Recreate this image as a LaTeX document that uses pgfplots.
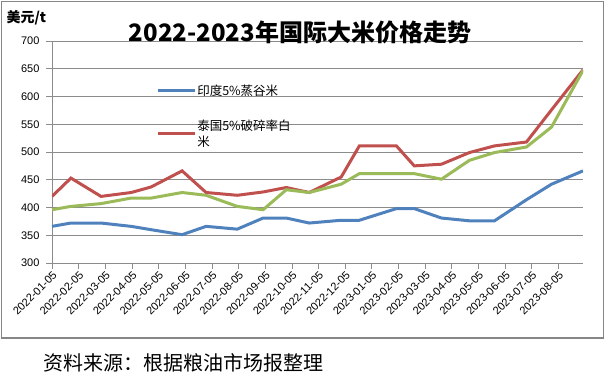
\documentclass[border=0pt]{standalone}
\usepackage{fontspec}
\setmainfont{Liberation Sans}
\newfontfamily\cjk{Noto Sans CJK SC}
\usepackage{pgfplots}
\usepackage{pgfplotstable}
\pgfplotsset{compat=1.18}
\definecolor{sblue}{RGB}{79,129,189}
\definecolor{sred}{RGB}{192,80,77}
\definecolor{sgreen}{RGB}{155,187,89}
\definecolor{gridc}{RGB}{140,140,140}
\definecolor{framec}{RGB}{134,134,134}
\pgfplotstableread{
x      india thai   third
0      366   420    396
0.71   372   453    402
1.84   372   420    407
2.97   366   427    417
3.72   360   437    417
4.88   351   466    427
5.78   366   427    422
6.95   361   422    402
7.92   381   428    396
8.79   381   436    432
9.65   372   427    427
10.85  377   455    442
11.53  377   511    461
12.92  398   511    461
13.59  398   475    461
14.61  381   478    451
15.66  376   499    485
16.60  376   511    499
17.80  414   518    509
18.74  442   576    545
19.92  466   648    647
}\datatable
\begin{document}
\begin{tikzpicture}[x=1pt,y=1pt]
\useasboundingbox (0,0) rectangle (605,377);
\draw[framec, line width=1.3pt] (1.2,39) rectangle (603.8,375.8);
\begin{axis}[
  at={(52pt,114pt)}, anchor=origin, scale only axis,
  width=531pt, height=222pt,
  xmin=0, xmax=19.92, ymin=300, ymax=700,
  ytick={300,350,...,700},
  xtick={0,...,19},
  xticklabels={2022-01-05,2022-02-05,2022-03-05,2022-04-05,2022-05-05,2022-06-05,2022-07-05,2022-08-05,2022-09-05,2022-10-05,2022-11-05,2022-12-05,2023-01-05,2023-02-05,2023-03-05,2023-04-05,2023-05-05,2023-06-05,2023-07-05,2023-08-05},
  axis x line*=bottom, axis y line*=left,
  ymajorgrids, grid style={gridc, line width=0.8pt},
  axis line style={gridc, line width=0.8pt},
  tick style={gridc, line width=0.8pt},
  tick align=outside, major tick length=6pt,
  x tick label style={rotate=45, anchor=north east, font=\fontsize{11}{13}\selectfont, inner sep=1pt},
  y tick label style={font=\fontsize{11}{13}\selectfont, xshift=-3pt},
  /pgf/number format/assume math mode=true,
  legend style={at={(0.196,0.812)}, anchor=north west, draw=none, fill=none,
    font=\cjk\fontsize{12.5}{12.5}\selectfont, inner sep=0pt,
    nodes={align=left, inner xsep=1pt}, row sep=19pt},
  legend cell align=left,
  legend image code/.code={\draw[#1] (0pt,0pt) -- (37pt,0pt);},
]
\addplot[sblue, line width=3pt] table[x=x, y=india] {\datatable};
\addlegendentry{印度5\%蒸谷米}
\addplot[sred, line width=3pt] table[x=x, y=thai] {\datatable};
\addlegendentry{泰国5\%破碎率白\\[3pt]米}
\addplot[sgreen, line width=3pt, forget plot] table[x=x, y=third] {\datatable};
\end{axis}
\node[font=\cjk\bfseries\fontsize{24}{28}\selectfont] at (300,345) {2022-2023年国际大米价格走势};
\node[anchor=west, font=\cjk\bfseries\fontsize{14}{16}\selectfont] at (3,359) {美元/t};
\node[anchor=west, font=\cjk\fontsize{20}{22}\selectfont] at (40,14) {资料来源：根据粮油市场报整理};
\end{tikzpicture}
\end{document}
